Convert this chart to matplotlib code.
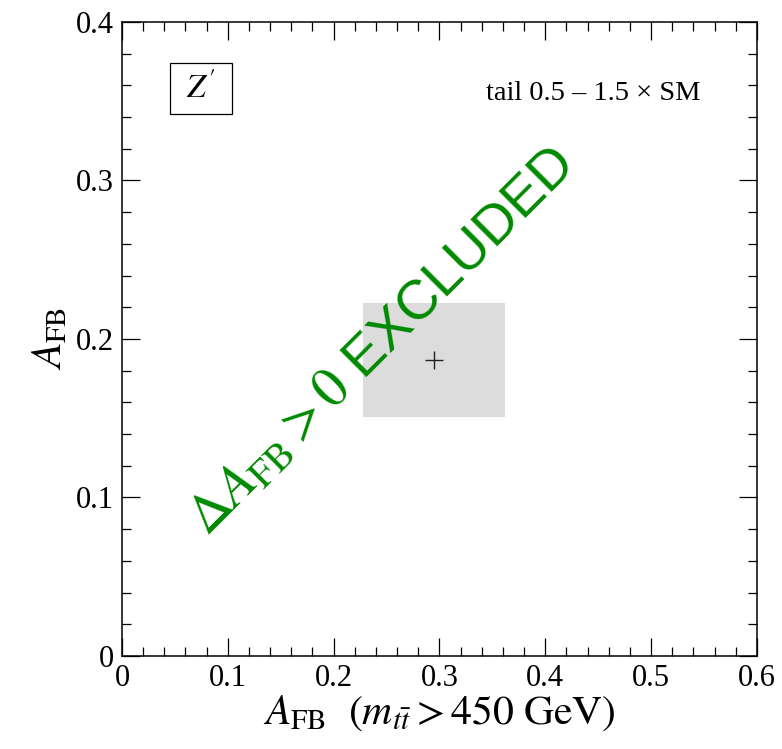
import matplotlib
matplotlib.use('Agg')
import matplotlib.pyplot as plt
from matplotlib.patches import Rectangle

plt.rcParams['font.family'] = ['Liberation Serif', 'DejaVu Serif']
plt.rcParams['mathtext.fontset'] = 'stix'

# data
x_range = [0.228, 0.362]        # A_FB (m_tt > 450 GeV) band
y_range = [0.151, 0.223]        # A_FB band
central = [0.295, 0.187]        # central value (x, y)

x_ticks = [0, 0.1, 0.2, 0.3, 0.4, 0.5, 0.6]
x_tick_labels = ['0', '0.1', '0.2', '0.3', '0.4', '0.5', '0.6']
y_ticks = [0, 0.1, 0.2, 0.3, 0.4]
y_tick_labels = ['0', '0.1', '0.2', '0.3', '0.4']

model_label = "$Z'$"
tail_label = 'tail 0.5 \u2013 1.5 \u00d7 SM'
excluded_label = r'$\Delta A_{\rm FB} > 0$ EXCLUDED'
excluded_pos = [0.2455, 0.198]

fig = plt.figure(figsize=(7.82, 7.49), dpi=100)
ax = fig.add_axes([0.156, 0.1242, 0.812, 0.8465])

# shaded measurement box and central value
ax.add_patch(Rectangle((x_range[0], y_range[0]), x_range[1] - x_range[0],
                       y_range[1] - y_range[0], facecolor='#dcdcdc',
                       edgecolor='none', zorder=1))
ax.plot(central[0], central[1], marker='+', color='#222222', markersize=13,
        markeredgewidth=1.0, zorder=3)

ax.text(excluded_pos[0], excluded_pos[1], excluded_label, color='#008a00',
        family=['Liberation Sans', 'DejaVu Sans'], fontsize=40, rotation=45,
        rotation_mode='anchor', ha='center', va='center', zorder=2)

# model box
ax.add_patch(Rectangle((0.0756, 0.8549), 0.0976, 0.0804, transform=ax.transAxes,
                       facecolor='white', edgecolor='black', linewidth=0.9))
ax.text(0.1244, 0.895, model_label, transform=ax.transAxes, fontsize=24,
        ha='center', va='center')
ax.text(0.573, 0.877, tail_label, transform=ax.transAxes, fontsize=20.5,
        ha='left', va='baseline')

ax.set_xlim(0, 0.6)
ax.set_ylim(0, 0.4)
ax.set_xticks(x_ticks)
ax.set_xticklabels(x_tick_labels)
ax.set_yticks(y_ticks)
ax.set_yticklabels(y_tick_labels)
ax.set_xticks([i * 0.02 for i in range(31)], minor=True)
ax.set_yticks([i * 0.02 for i in range(21)], minor=True)
ax.tick_params(which='both', direction='in', top=True, right=True, width=0.9)
ax.tick_params(which='major', length=13, labelsize=22, pad=6)
ax.tick_params(which='minor', length=6.5)
for s in ax.spines.values():
    s.set_linewidth(1.1)

ax.set_xlabel(r'$A_{\rm FB}\ \ (m_{t\bar{t}} > 450\ {\rm GeV})$', fontsize=30, labelpad=0)
ax.set_ylabel(r'$A_{\rm FB}$', fontsize=30, labelpad=4)

fig.savefig('out.png', dpi=100)
